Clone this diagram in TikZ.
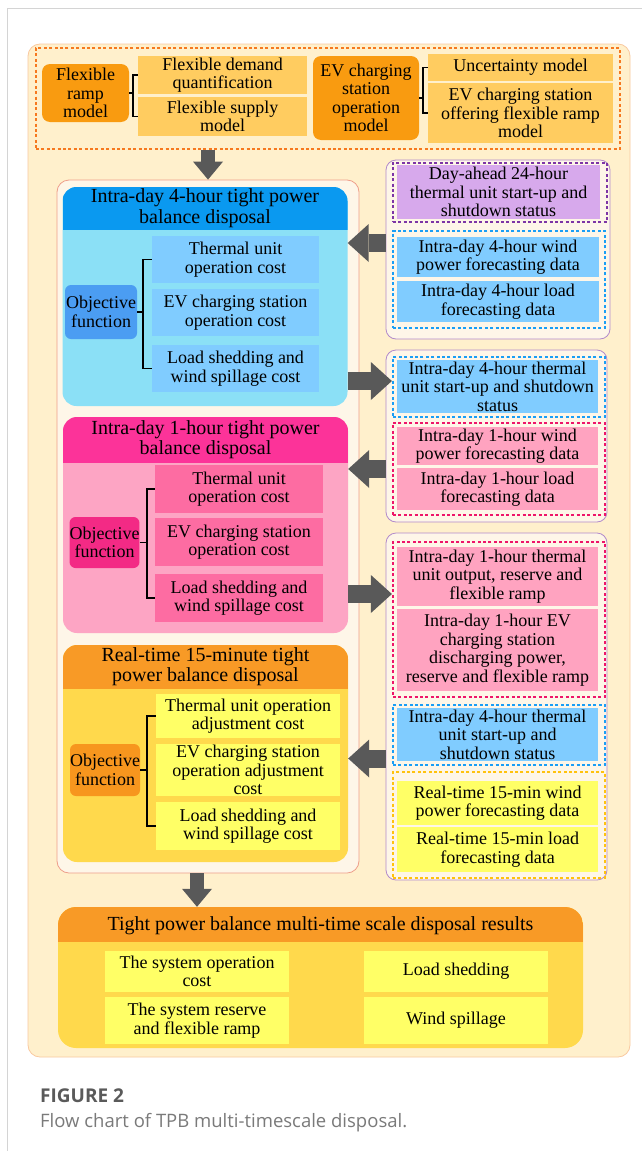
\documentclass[tikz,border=0pt]{standalone}
\usepackage{fontspec}
\setmainfont{Liberation Serif}
\newfontfamily\capfont{Open Sans}
\usetikzlibrary{positioning, arrows.meta}
\definecolor{cOuter}{HTML}{FFF0CC}
\definecolor{cOuterLine}{HTML}{F9C9A0}
\definecolor{cPanel}{HTML}{FEF6E8}
\definecolor{cPanelLine}{HTML}{EE9E8A}
\definecolor{cGroupLine}{HTML}{B28ACB}
\definecolor{cDashOrange}{HTML}{F6791F}
\definecolor{cOrange}{HTML}{F99B10}
\definecolor{cOrangeLt}{HTML}{FFCC60}
\definecolor{cBlueHead}{HTML}{0A99F0}
\definecolor{cBlueBody}{HTML}{8BE0F6}
\definecolor{cBlueObj}{HTML}{4B9DF2}
\definecolor{cBlueCell}{HTML}{80CCFF}
\definecolor{cPinkHead}{HTML}{FC3399}
\definecolor{cPinkBody}{HTML}{FDA5C4}
\definecolor{cPinkObj}{HTML}{F32A85}
\definecolor{cPinkCell}{HTML}{FD6CA2}
\definecolor{cPinkCellLt}{HTML}{FFA3C0}
\definecolor{cOrangeHead}{HTML}{F89A26}
\definecolor{cYellowBody}{HTML}{FFD94C}
\definecolor{cOrangeObj}{HTML}{F7961E}
\definecolor{cYellowCell}{HTML}{FFFF66}
\definecolor{cDashPurple}{HTML}{7D35A6}
\definecolor{cLavender}{HTML}{D7A9EC}
\definecolor{cDashBlue}{HTML}{1A9EF5}
\definecolor{cDashPink}{HTML}{EE1569}
\definecolor{cDashYellow}{HTML}{FFC20E}
\definecolor{cArrow}{HTML}{595959}
\definecolor{cFrame}{HTML}{D4D4D4}
\definecolor{cCapHead}{HTML}{5A5A5A}
\definecolor{cCapText}{HTML}{7A7A7A}

\begin{document}
\begin{tikzpicture}[x=1pt, y=-1pt,
      every node/.style={font=\fontsize{18}{18.5}\selectfont, align=center, inner sep=1pt},
      cell/.style={fill=#1},
      keybox/.style={fill=cOrange, rounded corners=8pt},
      objbox/.style={fill=#1, rounded corners=6pt, inner sep=0pt},
      dotbox/.style={draw=#1, line width=2.2pt, dash pattern=on 3pt off 2.4pt},
      group/.style={fill=cPanel, draw=cGroupLine, line width=0.8pt, rounded corners=10pt},
      stage/.style n args={3}{fill=#1, rounded corners=14pt, minimum width=285pt,
        path picture={\fill[#2, sharp corners] (path picture bounding box.north west) rectangle ([yshift=-#3]path picture bounding box.north east);}},
      headtext/.style={font=\fontsize{20}{20.5}\selectfont},
      brace/.style={draw=black, line width=1.5pt},
      fatarrow/.style={draw=cArrow, line width=18pt, -{Triangle[width=38pt, length=21pt, line width=0pt]}},
      downarrow/.style={draw=cArrow, line width=14pt, -{Triangle[width=30pt, length=18pt, line width=0pt]}}
    ]
    \fill[white] (0,0) rectangle (642,1151);
    \useasboundingbox (0,0) rectangle (642,1151);
    \draw[cFrame, line width=1pt] (7,1151) -- (7,8) -- (642,8);
    \node[rounded corners=12pt, fill=cOuter, draw=cOuterLine, line width=0.8pt, minimum width=602pt, minimum height=1013pt] (outer) at (329,550.5) {};

    \node[dotbox=cDashOrange, minimum width=584pt, minimum height=101pt] (models) at (328,98.5) {};
    \node[keybox, minimum width=87pt, minimum height=58pt] (ramp) at (85.5,93) {Flexible\\ramp\\model};
    \node[cell=cOrangeLt, minimum width=169pt, minimum height=38pt] (demand) at (222.5,75) {Flexible demand\\quantification};
    \node[cell=cOrangeLt, minimum width=169pt, minimum height=39pt] (supply) at (222.5,116.5) {Flexible supply\\model};
    \draw[brace] (demand.west) -- ++(-5,0) |- (supply.west);
    \draw[brace] (ramp.east) -- ++(4,0);
    \node[keybox, minimum width=106pt, minimum height=84pt] (evmodel) at (366,98) {EV charging\\station\\operation\\model};
    \node[cell=cOrangeLt, minimum width=185pt, minimum height=27pt] (uncert) at (520.5,67.5) {Uncertainty model};
    \node[cell=cOrangeLt, minimum width=185pt, minimum height=60pt] (offer) at (520.5,113) {EV charging station\\offering flexible ramp\\model};
    \draw[brace] (uncert.west) -- ++(-5,0) |- (offer.west);
    \draw[brace] (evmodel.east) -- ++(4,0);

    \node[rounded corners=12pt, fill=cPanel, draw=cPanelLine, line width=0.8pt, minimum width=302pt, minimum height=693pt] (stages) at (208,526.5) {};

    \node[stage={cBlueBody}{cBlueHead}{43pt}, minimum height=219pt] (stage4h) at (205,296.5) {};
    \node[headtext] (head4h) at ([yshift=-21.5pt]stage4h.north) {Intra-day 4-hour tight power\\balance disposal};
    \node[objbox=cBlueObj, minimum width=72pt, minimum height=54pt] (obj4h) at (101,312) {Objective\\function};
    \node[cell=cBlueCell, minimum width=167pt, minimum height=47pt] (th4h) at (235.5,259.5) {Thermal unit\\operation cost};
    \node[cell=cBlueCell, minimum width=167pt, minimum height=47pt] (ev4h) at (235.5,312.5) {EV charging station\\operation cost};
    \node[cell=cBlueCell, minimum width=167pt, minimum height=47pt] (ls4h) at (235.5,368.5) {Load shedding and\\wind spillage cost};
    \draw[brace] (th4h.west) -- ++(-9,0) |- (ls4h.west);
    \draw[brace] (obj4h.east) -- ++(6,0);

    \node[stage={cPinkBody}{cPinkHead}{46pt}, minimum height=216pt] (stage1h) at (205.5,525) {};
    \node[headtext] (head1h) at ([yshift=-23pt]stage1h.north) {Intra-day 1-hour tight power\\balance disposal};
    \node[objbox=cPinkObj, minimum width=69pt, minimum height=51pt] (obj1h) at (104.5,542.5) {Objective\\function};
    \node[cell=cPinkCell, minimum width=168pt, minimum height=48pt] (th1h) at (239,489) {Thermal unit\\operation cost};
    \node[cell=cPinkCell, minimum width=168pt, minimum height=48pt] (ev1h) at (239,542) {EV charging station\\operation cost};
    \node[cell=cPinkCell, minimum width=168pt, minimum height=48pt] (ls1h) at (239,598) {Load shedding and\\wind spillage cost};
    \draw[brace] (th1h.west) -- ++(-8,0) |- (ls1h.west);
    \draw[brace] (obj1h.east) -- ++(8,0);

    \node[stage={cYellowBody}{cOrangeHead}{44pt}, minimum height=217pt] (stage15) at (205.5,753.5) {};
    \node[headtext] (head15) at ([yshift=-22pt]stage15.north) {Real-time 15-minute tight\\power balance disposal};
    \node[objbox=cOrangeObj, minimum width=70pt, minimum height=52pt] (obj15) at (105,770) {Objective\\function};
    \node[cell=cYellowCell, minimum width=184pt, minimum height=44pt] (th15) at (248,716) {Thermal unit operation\\adjustment cost};
    \node[cell=cYellowCell, minimum width=184pt, minimum height=52pt] (ev15) at (248,770) {EV charging station\\operation adjustment\\cost};
    \node[cell=cYellowCell, minimum width=184pt, minimum height=48pt] (ls15) at (248,826) {Load shedding and\\wind spillage cost};
    \draw[brace] (th15.west) -- ++(-9,0) |- (ls15.west);
    \draw[brace] (obj15.east) -- ++(7,0);

    \node[group, minimum width=224pt, minimum height=179pt] (in4h) at (498,249.5) {};
    \node[dotbox=cDashPurple, minimum width=214pt, minimum height=59pt] (dotDA) at (500,192.5) {};
    \node[cell=cLavender, minimum width=203pt, minimum height=54pt] (dayahead) at (498.5,192) {Day-ahead 24-hour\\thermal unit start-up and\\shutdown status};
    \node[dotbox=cDashBlue, minimum width=212pt, minimum height=97pt] (dot4h) at (499,279.5) {};
    \node[cell=cBlueCell, minimum width=202pt, minimum height=40pt] (wind4h) at (498,257) {Intra-day 4-hour wind\\power forecasting data};
    \node[cell=cBlueCell, minimum width=202pt, minimum height=41pt] (load4h) at (498,301.5) {Intra-day 4-hour load\\forecasting data};

    \node[group, minimum width=221pt, minimum height=172pt] (in1h) at (496.5,436) {};
    \node[dotbox=cDashBlue, minimum width=212pt, minimum height=60pt] (dotTh4h) at (499,387) {};
    \node[cell=cBlueCell, minimum width=201pt, minimum height=53pt] (status4h) at (497.5,386.5) {Intra-day 4-hour thermal\\unit start-up and shutdown\\status};
    \node[dotbox=cDashPink, minimum width=212pt, minimum height=92pt] (dot1h) at (499,469) {};
    \node[cell=cPinkCellLt, minimum width=201pt, minimum height=38pt] (wind1h) at (497.5,446) {Intra-day 1-hour wind\\power forecasting data};
    \node[cell=cPinkCellLt, minimum width=201pt, minimum height=42pt] (load1h) at (497.5,489) {Intra-day 1-hour load\\forecasting data};

    \node[group, minimum width=221pt, minimum height=347pt] (in15) at (496.5,706.5) {};
    \node[dotbox=cDashPink, minimum width=212pt, minimum height=155pt] (dotOut1h) at (499,619.5) {};
    \node[cell=cPinkCellLt, minimum width=201pt, minimum height=59pt] (out1h) at (497.5,576.5) {Intra-day 1-hour thermal\\unit output, reserve and\\flexible ramp};
    \node[cell=cPinkCellLt, minimum width=201pt, minimum height=82pt] (evout1h) at (497.5,650) {Intra-day 1-hour EV\\charging station\\discharging power,\\reserve and flexible ramp};
    \node[dotbox=cDashBlue, minimum width=212pt, minimum height=60pt] (dotTh15) at (499,735) {};
    \node[cell=cBlueCell, minimum width=201pt, minimum height=53pt] (status15) at (497.5,734.5) {Intra-day 4-hour thermal\\unit start-up and\\shutdown status};
    \node[dotbox=cDashYellow, minimum width=212pt, minimum height=106pt] (dotRT) at (499,825) {};
    \node[cell=cYellowCell, minimum width=201pt, minimum height=44pt] (windRT) at (497.5,803) {Real-time 15-min wind\\power forecasting data};
    \node[cell=cYellowCell, minimum width=201pt, minimum height=45pt] (loadRT) at (497.5,849.5) {Real-time 15-min load\\forecasting data};

    \node[stage={cYellowBody}{cOrangeHead}{35pt}, rounded corners=18pt, minimum width=525pt, minimum height=141pt] (results) at (320.5,977.5) {};
    \node[headtext] (resultshead) at ([yshift=-18.5pt]results.north) {Tight power balance multi-time scale disposal results};
    \node[cell=cYellowCell, minimum width=184pt, minimum height=41pt] (syscost) at (197,971.5) {The system operation\\cost};
    \node[cell=cYellowCell, minimum width=184pt, minimum height=47pt] (sysres) at (197,1020.5) {The system reserve\\and flexible ramp};
    \node[cell=cYellowCell, minimum width=184pt, minimum height=41pt] (shed) at (456,971.5) {Load shedding};
    \node[cell=cYellowCell, minimum width=184pt, minimum height=47pt] (spill) at (456,1020.5) {Wind spillage};

    \draw[downarrow] (models.south -| stages.north) -- (stages.north);
    \draw[downarrow] ([xshift=-11pt]stages.south) -- ([xshift=-11pt]stages.south |- results.north);
    \coordinate (a1) at ([yshift=6.5pt]in4h.west);
    \draw[fatarrow] (a1) -- (a1 -| stage4h.east);
    \coordinate (a2) at ([yshift=6pt]dotTh4h.west);
    \draw[fatarrow] (a2 -| stage4h.east) -- (a2);
    \draw[fatarrow] (dot1h.west -| in1h.west) -- (dot1h.west -| stage1h.east);
    \coordinate (a3) at ([yshift=25.5pt]dotOut1h.west);
    \draw[fatarrow] (a3 -| stage1h.east) -- (a3);
    \coordinate (a4) at ([yshift=-23.5pt]dotTh15.west);
    \draw[fatarrow] (a4 -| in15.west) -- (a4 -| stage15.east);

    \node[anchor=base west, inner sep=0pt, align=left, text=cCapHead, font=\capfont\bfseries\fontsize{19}{20}\selectfont] (fignum) at (40,1102) {FIGURE 2};
    \node[anchor=base west, inner sep=0pt, align=left, text=cCapText, font=\capfont\fontsize{18.5}{20}\selectfont] (figcap) at (40,1127) {Flow chart of TPB multi-timescale disposal.};
  \end{tikzpicture}
\end{document}
